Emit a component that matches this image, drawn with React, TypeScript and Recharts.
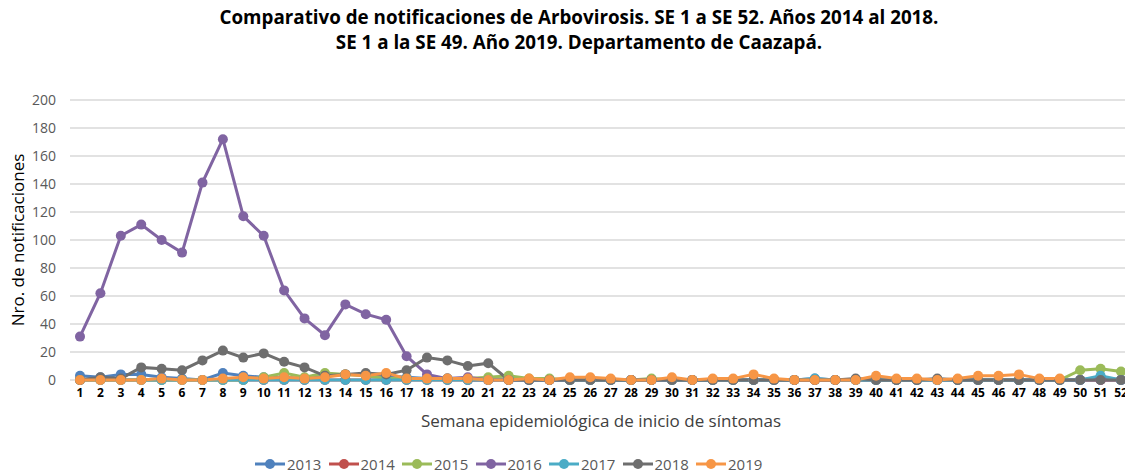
import { CartesianGrid, Line, LineChart, XAxis, YAxis } from "recharts";

const weeks = Array.from({ length: 52 }, (_, i) => String(i + 1));

const s2013 = [3, 2, 4, 4, 2, 1, 0, 5, 3, 2, 2, 1, 4, 4, 4, 3, 2, 1, 1, 0, 0, 1, 0, 0, 0, 0, 0, 0, 0, 0, 0, 0, 0, 0, 0, 0, 1, 0, 0, 0, 0, 0, 0, 0, 0, 0, 0, 0, 0, 0, 2, 0];
const s2014 = [0, 0, 0, 0, 0, 0, 0, 0, 0, 0, 0, 0, 0, 0, 0, 0, 0, 0, 0, 0, 0, 0, 0, 0, 0, 0, 0, 0, 0, 0, 0, 0, 0, 0, 0, 0, 0, 0, 0, 0, 0, 0, 0, 0, 0, 0, 0, 0, 0, 0, 0, 0];
const s2015 = [0, 0, 0, 0, 0, 0, 0, 0, 0, 2, 5, 2, 5, 4, 3, 1, 1, 1, 1, 1, 2, 3, 1, 1, 0, 0, 0, 0, 1, 0, 0, 0, 0, 0, 0, 0, 0, 0, 0, 0, 0, 0, 0, 0, 0, 0, 0, 0, 0, 7, 8, 6];
const s2016 = [31, 62, 103, 111, 100, 91, 141, 172, 117, 103, 64, 44, 32, 54, 47, 43, 17, 4, 1, 2, 0, 0, 0, 0, 0, 0, 0, 0, 0, 0, 0, 0, 0, 0, 0, 0, 0, 0, 0, 0, 0, 0, 0, 0, 0, 0, 0, 0, 0, 0, 0, 0];
const s2017 = [0, 0, 0, 0, 0, 0, 0, 0, 0, 0, 0, 0, 0, 0, 0, 0, 0, 0, 0, 0, 0, 0, 0, 0, 0, 0, 0, 0, 0, 0, 0, 0, 0, 0, 0, 0, 1, 0, 0, 0, 0, 0, 0, 0, 0, 0, 0, 0, 0, 0, 3, 0];
const s2018 = [0, 2, 1, 9, 8, 7, 14, 21, 16, 19, 13, 9, 3, 4, 5, 4, 7, 16, 14, 10, 12, 0, 0, 0, 0, 0, 0, 0, 0, 0, 0, 0, 0, 0, 0, 0, 0, 0, 1, 0, 0, 0, 1, 0, 0, 0, 0, 0, 0, 0, 0, 0];
const s2019 = [0, 0, 0, 0, 1, 0, 0, 1, 2, 1, 2, 1, 2, 4, 3, 5, 1, 1, 1, 1, 0, 0, 1, 0, 2, 2, 1, 0, 0, 2, 0, 1, 1, 4, 1, 0, 0, 0, 0, 3, 1, 1, 0, 1, 3, 3, 4, 1, 1];

const yTicks = [0, 20, 40, 60, 80, 100, 120, 140, 160, 180, 200];

const series = [
  { key: "2013", values: s2013, color: "#4F81BD" },
  { key: "2014", values: s2014, color: "#C0504D" },
  { key: "2015", values: s2015, color: "#9BBB59" },
  { key: "2016", values: s2016, color: "#8064A2" },
  { key: "2017", values: s2017, color: "#4BACC6" },
  { key: "2018", values: s2018, color: "#6E6E6E" },
  { key: "2019", values: s2019, color: "#F79646" },
];

const data = weeks.map((week, i) => {
  const row: Record<string, string | number | null> = { week };
  series.forEach((s) => {
    row[s.key] = i < s.values.length ? s.values[i] : null;
  });
  return row;
});

const font = "'Open Sans', sans-serif";

const ChartLegend = () => (
  <div
    style={{
      position: "absolute",
      left: 255,
      top: 454,
      display: "flex",
      fontSize: 15,
      color: "#595959",
    }}
  >
    {series.map((s) => (
      <div key={s.key} style={{ display: "flex", alignItems: "center", width: 73.5 }}>
        <svg width={30} height={12}>
          <line x1={0} y1={6} x2={30} y2={6} stroke={s.color} strokeWidth={3} />
          <circle cx={15} cy={6} r={5} fill={s.color} />
        </svg>
        <span style={{ marginLeft: 2 }}>{s.key}</span>
      </div>
    ))}
  </div>
);

export default function App() {
  return (
    <div
      style={{
        position: "absolute",
        left: 0,
        top: 0,
        width: 1125,
        height: 476,
        overflow: "hidden",
        background: "#fff",
        fontFamily: font,
      }}
    >
      <div
        style={{
          position: "absolute",
          left: 0,
          top: 5,
          width: 1158,
          textAlign: "center",
          fontWeight: 700,
          fontSize: 18.8,
          lineHeight: "25px",
          color: "#000",
        }}
      >
        Comparativo de notificaciones de Arbovirosis. SE 1 a SE 52. Años 2014 al 2018.
        <br />
        SE 1 a la SE 49. Año 2019. Departamento de Caazapá.
      </div>
      <div
        style={{
          position: "absolute",
          left: 17,
          top: 240,
          transform: "translate(-50%, -50%) rotate(-90deg)",
          whiteSpace: "nowrap",
          fontSize: 17,
          color: "#000",
        }}
      >
        Nro. de notificaciones
      </div>
      <div
        style={{
          position: "absolute",
          left: 601,
          top: 420,
          transform: "translate(-50%, -50%)",
          whiteSpace: "nowrap",
          fontSize: 17,
          color: "#404040",
        }}
      >
        Semana epidemiológica de inicio de síntomas
      </div>
      <div style={{ position: "absolute", left: 0, top: 0 }}>
        <LineChart
          width={1131}
          height={476}
          data={data}
          margin={{ top: 100, right: 0, left: 0, bottom: 0 }}
        >
          <CartesianGrid vertical={false} stroke="#d9d9d9" strokeWidth={1.5} />
          <XAxis
            dataKey="week"
            interval={0}
            padding={{ left: 10, right: 10 }}
            axisLine={false}
            tickLine={false}
            tickSize={0}
            tickMargin={8}
            height={96}
            tick={{ fill: "#000", fontSize: 12, fontWeight: 700, fontFamily: font }}
          />
          <YAxis
            width={70}
            domain={[0, 200]}
            ticks={yTicks}
            axisLine={false}
            tickLine={false}
            tickSize={0}
            tickMargin={14}
            tick={{ fill: "#595959", fontSize: 14, fontFamily: font }}
          />
          {series.map((s) => (
            <Line
              key={s.key}
              dataKey={s.key}
              stroke={s.color}
              strokeWidth={3}
              dot={{ r: 5, fill: s.color, stroke: s.color, strokeWidth: 0 }}
              isAnimationActive={false}
              connectNulls={false}
            />
          ))}
        </LineChart>
      </div>
      <ChartLegend />
    </div>
  );
}
